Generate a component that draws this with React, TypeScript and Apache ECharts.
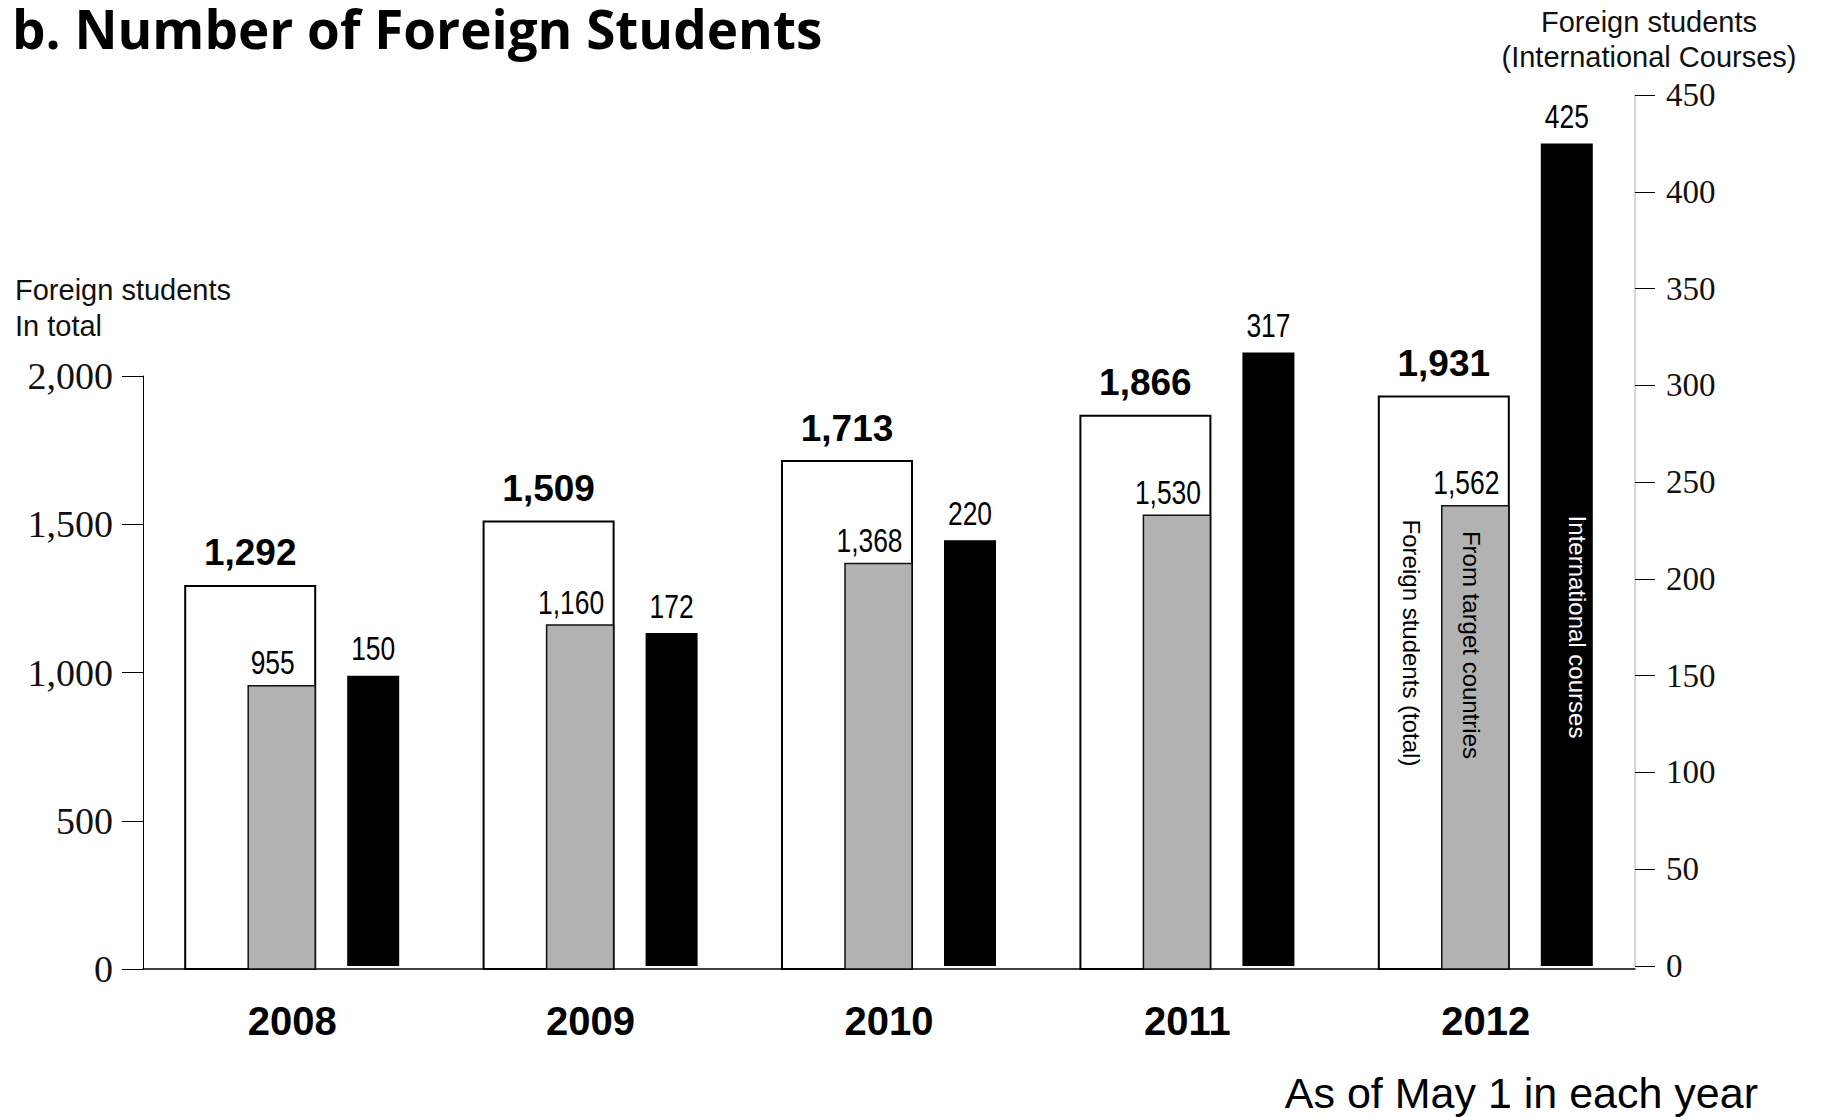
import React, { useEffect, useRef } from "react";
import * as echarts from "echarts";

// ---- data ----
const years = ["2008", "2009", "2010", "2011", "2012"];
const totalStudents = [1292, 1509, 1713, 1866, 1931];
const targetCountryStudents = [955, 1160, 1368, 1530, 1562];
const internationalCourseStudents = [150, 172, 220, 317, 425];
const leftAxisMax = 2000;
const leftAxisInterval = 500;
const rightAxisMax = 450;
const rightAxisInterval = 50;

const titleText = "b. Number of Foreign Students";
const leftAxisTitle = "Foreign students\nIn total";
const rightAxisTitle = "Foreign students\n(International Courses)";
const footNote = "As of May 1 in each year";
const totalInsideLabel = "Foreign students (total)";
const targetInsideLabel = "From target countries";
const intlInsideLabel = "International courses";

const fmt = (v: number) => v.toLocaleString("en-US");

const SANS = '"Liberation Sans", Arial, sans-serif';
const SERIF = '"Liberation Serif", "Times New Roman", serif';

type BarOpts = {
  offset: number;
  width: number;
  fill: string;
  stroke?: string;
  lineWidth?: number;
  labelFont: string;
  labelScaleX: number;
  labelGap: number;
  labelDx: number;
};

function makeBarRenderer(o: BarOpts) {
  return (_params: any, api: any) => {
    const idx = api.value(0);
    const val = api.value(1);
    const top = api.coord([idx, val]);
    const base = api.coord([idx, 0]);
    const cx = top[0] + o.offset;
    return {
      type: "group",
      children: [
        {
          type: "rect",
          shape: { x: cx - o.width / 2, y: top[1], width: o.width, height: base[1] - top[1] },
          style: { fill: o.fill, stroke: o.stroke || null, lineWidth: o.lineWidth || 0 },
        },
        {
          type: "text",
          x: cx + o.labelDx,
          y: top[1] - o.labelGap,
          scaleX: o.labelScaleX,
          style: {
            text: fmt(val),
            x: 0,
            y: 0,
            align: "center",
            verticalAlign: "middle",
            font: o.labelFont,
            fill: "#000",
          },
        },
      ],
    };
  };
}

function rotatedText(text: string, x: number, y: number, fill: string) {
  return {
    type: "text",
    x,
    y,
    z: 100,
    rotation: -Math.PI / 2,
    style: {
      text,
      font: `24px ${SANS}`,
      fill,
      align: "center",
      textAlign: "center",
      verticalAlign: "middle",
      textVerticalAlign: "middle",
    },
  };
}

export default function App() {
  const ref = useRef<HTMLDivElement>(null);

  useEffect(() => {
    document.body.style.margin = "0";
    if (!ref.current) return;
    const chart = echarts.init(ref.current, null, { renderer: "svg" });

    const gridLeft = 143;
    const gridWidth = 1492;

    const option: any = {
      animation: false,
      backgroundColor: "#fff",
      grid: [
        { left: gridLeft, width: gridWidth, top: 376, height: 593 },
        { left: gridLeft, width: gridWidth, top: 95, height: 871 },
      ],
      xAxis: [
        {
          type: "category",
          gridIndex: 0,
          data: years,
          axisLine: { show: true, lineStyle: { color: "#000", width: 1.5 } },
          axisTick: { show: false },
          axisLabel: {
            margin: 32,
            fontSize: 40,
            fontWeight: "bold",
            fontFamily: SANS,
            color: "#000",
          },
        },
        {
          type: "category",
          gridIndex: 1,
          data: years,
          show: false,
        },
      ],
      yAxis: [
        {
          type: "value",
          gridIndex: 0,
          position: "left",
          min: 0,
          max: leftAxisMax,
          interval: leftAxisInterval,
          splitLine: { show: false },
          axisLine: { show: true, lineStyle: { color: "#000", width: 1 } },
          axisTick: { show: true, length: 21, lineStyle: { color: "#000", width: 1 } },
          axisLabel: {
            margin: 30,
            fontSize: 38,
            fontFamily: SERIF,
            color: "#111",
            formatter: (v: number) => fmt(v),
          },
        },
        {
          type: "value",
          gridIndex: 1,
          position: "right",
          min: 0,
          max: rightAxisMax,
          interval: rightAxisInterval,
          splitLine: { show: false },
          axisLine: { show: true, lineStyle: { color: "#c8c8c8", width: 1.5 } },
          axisTick: { show: true, length: 20, lineStyle: { color: "#000", width: 1 } },
          axisLabel: {
            margin: 31,
            fontSize: 33,
            fontFamily: SERIF,
            color: "#111",
          },
        },
      ],
      series: [
        {
          name: "Foreign students (total)",
          type: "custom",
          xAxisIndex: 0,
          yAxisIndex: 0,
          encode: { x: 0, y: 1 },
          data: years.map((_, i) => [i, totalStudents[i]]),
          renderItem: makeBarRenderer({
            offset: -42,
            width: 130,
            fill: "#fff",
            stroke: "#000",
            lineWidth: 2,
            labelFont: `bold 37px ${SANS}`,
            labelScaleX: 1,
            labelGap: 33,
            labelDx: 0,
          }),
        },
        {
          name: "From target countries",
          type: "custom",
          xAxisIndex: 0,
          yAxisIndex: 0,
          encode: { x: 0, y: 1 },
          data: years.map((_, i) => [i, targetCountryStudents[i]]),
          renderItem: makeBarRenderer({
            offset: -10.5,
            width: 67,
            fill: "#b2b2b2",
            stroke: "#111",
            lineWidth: 1.5,
            labelFont: `33px ${SANS}`,
            labelScaleX: 0.8,
            labelGap: 23,
            labelDx: -9,
          }),
        },
        {
          name: "International courses",
          type: "custom",
          xAxisIndex: 1,
          yAxisIndex: 1,
          encode: { x: 0, y: 1 },
          data: years.map((_, i) => [i, internationalCourseStudents[i]]),
          renderItem: makeBarRenderer({
            offset: 81,
            width: 52,
            fill: "#000",
            labelFont: `33px ${SANS}`,
            labelScaleX: 0.8,
            labelGap: 27,
            labelDx: 0,
          }),
        },
      ],
      graphic: [
        {
          type: "text",
          x: 12,
          y: 28,
          z: 100,
          style: {
            text: titleText,
            font: 'bold 53px "Open Sans", sans-serif',
            fill: "#000",
            align: "left",
            textAlign: "left",
            verticalAlign: "middle",
            textVerticalAlign: "middle",
          },
        },
        {
          type: "text",
          x: 15,
          y: 272,
          z: 100,
          style: {
            text: leftAxisTitle,
            font: `29px ${SANS}`,
            lineHeight: 36,
            fill: "#111",
            align: "left",
            textAlign: "left",
            verticalAlign: "top",
            textVerticalAlign: "top",
          },
        },
        {
          type: "text",
          x: 1649,
          y: 4,
          z: 100,
          style: {
            text: rightAxisTitle,
            font: `29px ${SANS}`,
            lineHeight: 35,
            fill: "#111",
            align: "center",
            textAlign: "center",
            verticalAlign: "top",
            textVerticalAlign: "top",
          },
        },
        {
          type: "text",
          x: 1758,
          y: 1093,
          z: 100,
          style: {
            text: footNote,
            font: `43px ${SANS}`,
            fill: "#000",
            align: "right",
            textAlign: "right",
            verticalAlign: "middle",
            textVerticalAlign: "middle",
          },
        },
        rotatedText(totalInsideLabel, 1411, 643, "#000"),
        rotatedText(targetInsideLabel, 1471, 645, "#000"),
        rotatedText(intlInsideLabel, 1577, 627, "#fff"),
      ],
    };

    chart.setOption(option);
    return () => chart.dispose();
  }, []);

  return (
    <div
      ref={ref}
      style={{ position: "absolute", left: 0, top: 0, width: 1821, height: 1117, background: "#fff" }}
    />
  );
}
